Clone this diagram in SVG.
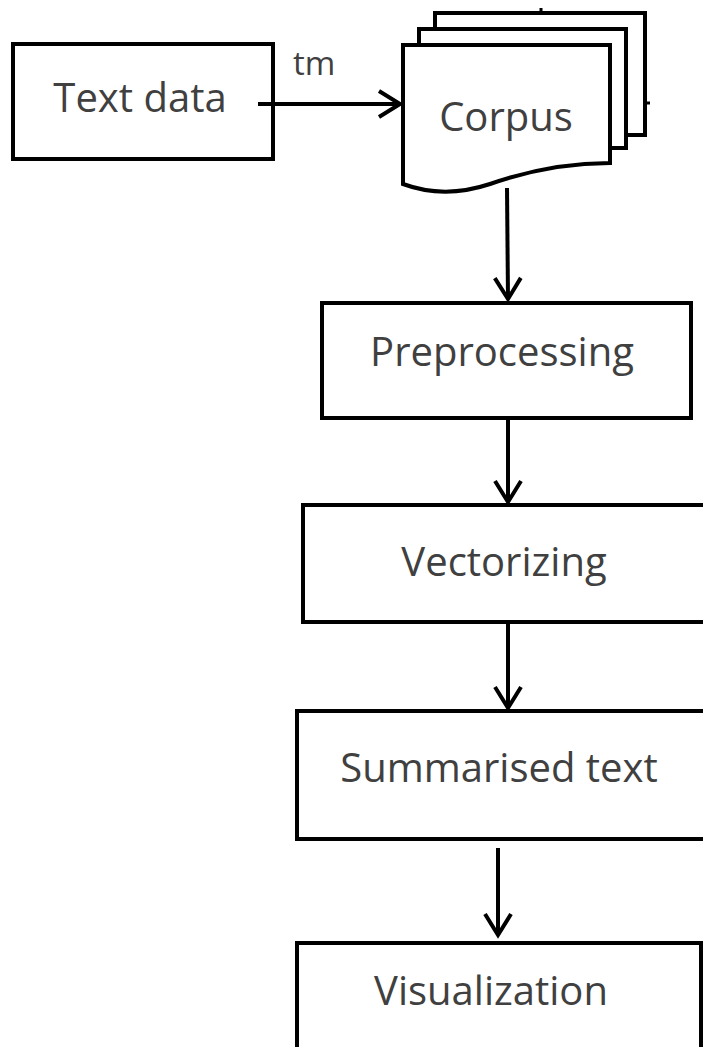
<svg xmlns="http://www.w3.org/2000/svg" width="703" height="1047" viewBox="0 0 703 1047">
<style>
.box{fill:#fff;stroke:#000;stroke-width:4}
.lbl{font-family:"Open Sans","Liberation Sans",sans-serif;fill:#404040;text-anchor:middle;font-size:40px}
.conn{fill:none;stroke:#000;stroke-width:4}
</style>
<defs>
<marker id="ah" markerUnits="userSpaceOnUse" markerWidth="30" markerHeight="30" viewBox="-25 -15 29 30" refX="0" refY="0" orient="auto">
<path d="M-21,-13 L0,0 L-21,13" fill="none" stroke="#000" stroke-width="4"/>
</marker>
</defs>
<rect width="703" height="1047" fill="#fff"/>
<g id="node-textdata">
<rect class="box" x="13" y="44" width="260" height="115"/>
<text class="lbl" x="140" y="112" font-size="39">Text data</text>
</g>
<g id="node-corpus">
<rect class="box" x="435" y="13" width="210" height="122"/>
<rect class="box" x="419" y="29" width="207" height="119"/>
<path class="box" d="M403,45 H610 V163 C570,163 530,170 490,184 C460,194 430,194 403,184 Z"/>
<line x1="541" y1="8" x2="541" y2="13" stroke="#000" stroke-width="3"/>
<line x1="645" y1="103" x2="650" y2="103" stroke="#000" stroke-width="3"/>
<text class="lbl" x="506" y="131" font-size="31">Corpus</text>
</g>
<g id="node-preprocessing">
<rect class="box" x="322" y="303" width="369" height="115"/>
<text class="lbl" x="502" y="366">Preprocessing</text>
</g>
<g id="node-vectorizing">
<rect class="box" x="303" y="505" width="410" height="117"/>
<text class="lbl" x="504" y="576">Vectorizing</text>
</g>
<g id="node-summarised">
<rect class="box" x="297" y="711" width="416" height="128"/>
<text class="lbl" x="499" y="782">Summarised text</text>
</g>
<g id="node-visualization">
<rect class="box" x="297" y="943" width="404" height="120"/>
<text class="lbl" x="491" y="1005">Visualization</text>
</g>
<g id="connectors">
<line class="conn" x1="258" y1="104" x2="400" y2="104" marker-end="url(#ah)"/>
<text x="293" y="75" font-family="'Open Sans','Liberation Sans',sans-serif" font-size="33" fill="#404040">tm</text>
<line class="conn" x1="507" y1="188" x2="508" y2="299" marker-end="url(#ah)"/>
<line class="conn" x1="508" y1="420" x2="508" y2="502" marker-end="url(#ah)"/>
<line class="conn" x1="508" y1="624" x2="508" y2="708" marker-end="url(#ah)"/>
<line class="conn" x1="498" y1="848" x2="498" y2="935" marker-end="url(#ah)"/>
</g>
</svg>
